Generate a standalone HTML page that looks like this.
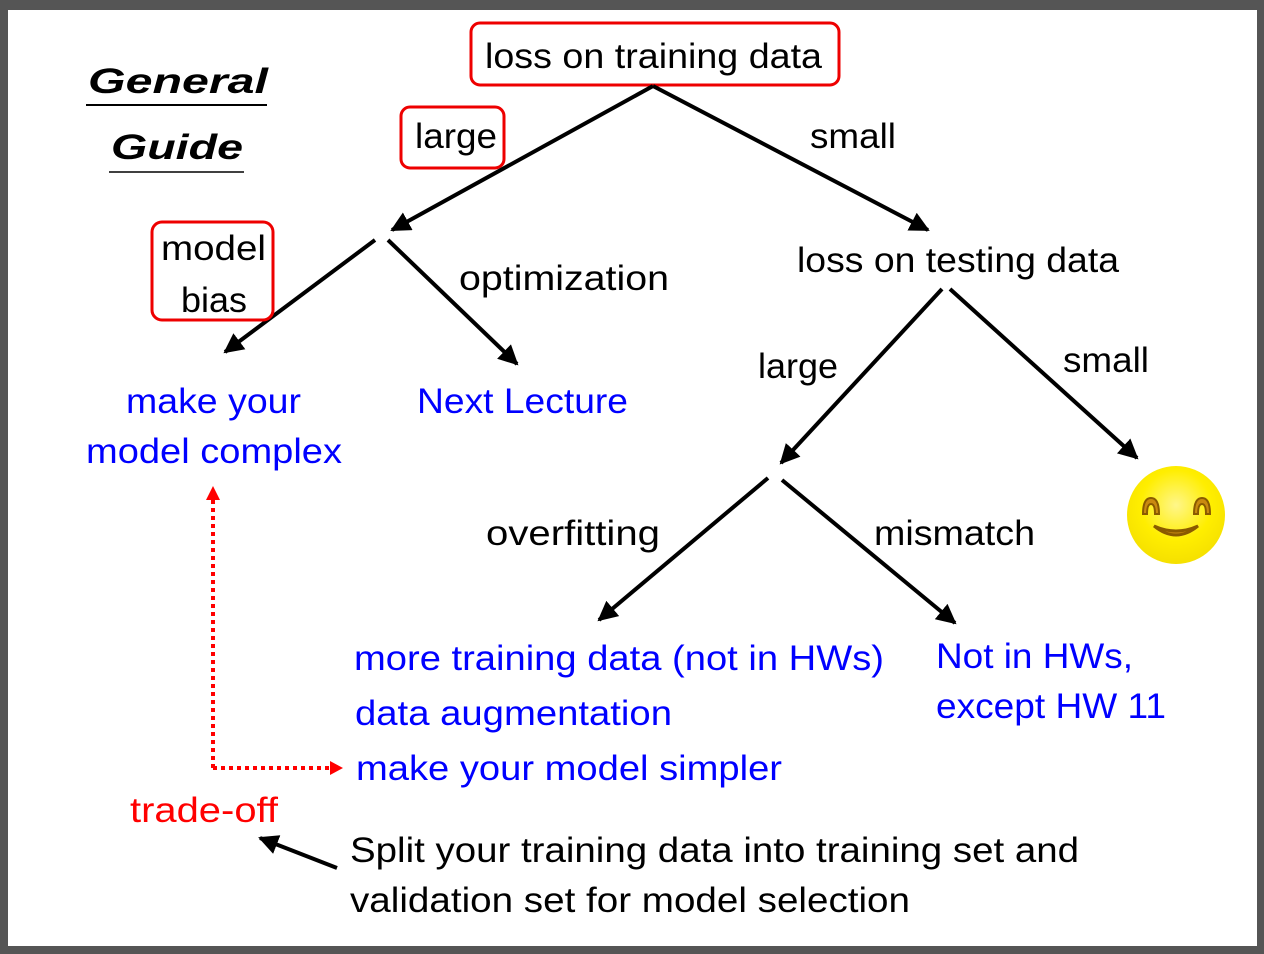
<!DOCTYPE html>
<html><head><meta charset="utf-8"><style>
html,body{margin:0;padding:0;background:#555;}
svg{display:block;}
text{font-family:"Liberation Sans",sans-serif;font-size:35px;}
</style></head><body>
<svg width="1264" height="954" viewBox="0 0 1264 954" xmlns="http://www.w3.org/2000/svg">
<defs>
<marker id="ah" markerWidth="5" markerHeight="5" refX="4.5" refY="2.5" orient="auto" markerUnits="strokeWidth"><path d="M0,0 L5,2.5 L0,5 z" fill="#000"/></marker>
<radialGradient id="sg" cx="50%" cy="40%" r="60%"><stop offset="0" stop-color="#fff68a"/><stop offset="0.6" stop-color="#ffee00"/><stop offset="1" stop-color="#f5e000"/></radialGradient>
</defs>
<rect x="8" y="10" width="1249" height="936" fill="#fff"/>
<text x="88" y="93" font-weight="bold" font-style="italic" font-size="48" textLength="180" lengthAdjust="spacingAndGlyphs">General</text>
<line x1="86" y1="105" x2="267" y2="105" stroke="#000" stroke-width="2"/>
<text x="111" y="159" font-weight="bold" font-style="italic" font-size="48" textLength="132" lengthAdjust="spacingAndGlyphs">Guide</text>
<line x1="109" y1="172" x2="244" y2="172" stroke="#000" stroke-width="1.5"/>
<rect x="471" y="23" width="368" height="62" rx="9" fill="none" stroke="#e00" stroke-width="3"/>
<text x="485" y="68" textLength="337" lengthAdjust="spacingAndGlyphs">loss on training data</text>
<rect x="401" y="107" width="103" height="61" rx="9" fill="none" stroke="#e00" stroke-width="3"/>
<text x="415" y="148" textLength="82" lengthAdjust="spacingAndGlyphs">large</text>
<text x="810" y="148" textLength="86" lengthAdjust="spacingAndGlyphs">small</text>
<g stroke="#000" stroke-width="4" marker-end="url(#ah)">
<line x1="653" y1="86" x2="392" y2="230"/>
<line x1="653" y1="86" x2="928" y2="230"/>
<line x1="375" y1="240" x2="225" y2="352"/>
<line x1="388" y1="240" x2="517" y2="364"/>
<line x1="942" y1="289" x2="781" y2="463"/>
<line x1="950" y1="289" x2="1137" y2="458"/>
<line x1="768" y1="478" x2="599" y2="620"/>
<line x1="782" y1="480" x2="955" y2="623"/>
<line x1="337" y1="868" x2="260" y2="838"/>
</g>
<rect x="152" y="222" width="121" height="98" rx="10" fill="none" stroke="#e00" stroke-width="3"/>
<text x="161" y="260" textLength="105" lengthAdjust="spacingAndGlyphs">model</text>
<text x="181" y="312" textLength="66" lengthAdjust="spacingAndGlyphs">bias</text>
<text x="459" y="290" textLength="210" lengthAdjust="spacingAndGlyphs">optimization</text>
<text x="797" y="272" textLength="322" lengthAdjust="spacingAndGlyphs">loss on testing data</text>
<g fill="#00f">
<text x="126" y="413" textLength="175" lengthAdjust="spacingAndGlyphs">make your</text>
<text x="86" y="463" textLength="256" lengthAdjust="spacingAndGlyphs">model complex</text>
<text x="417" y="413" textLength="211" lengthAdjust="spacingAndGlyphs">Next Lecture</text>
<text x="354" y="670" textLength="530" lengthAdjust="spacingAndGlyphs">more training data (not in HWs)</text>
<text x="355" y="725" textLength="317" lengthAdjust="spacingAndGlyphs">data augmentation</text>
<text x="356" y="780" textLength="426" lengthAdjust="spacingAndGlyphs">make your model simpler</text>
<text x="936" y="668" textLength="197" lengthAdjust="spacingAndGlyphs">Not in HWs,</text>
<text x="936" y="718" textLength="230" lengthAdjust="spacingAndGlyphs">except HW 11</text>
</g>
<text x="758" y="378" textLength="80" lengthAdjust="spacingAndGlyphs">large</text>
<text x="1063" y="372" textLength="86" lengthAdjust="spacingAndGlyphs">small</text>
<text x="486" y="545" textLength="174" lengthAdjust="spacingAndGlyphs">overfitting</text>
<text x="874" y="545" textLength="161" lengthAdjust="spacingAndGlyphs">mismatch</text>
<circle cx="1176" cy="515" r="49" fill="url(#sg)"/>
<g fill="#c98a10" stroke="#8a5a00" stroke-width="2">
<path d="M1143,514 q0,-16 8,-16 q8,0 8,16 l-4,0 q0,-10 -4,-10 q-4,0 -4,10z"/>
<path d="M1194,514 q0,-16 8,-16 q8,0 8,16 l-4,0 q0,-10 -4,-10 q-4,0 -4,10z"/>
</g>
<path d="M1154,526 q22,18 44,0 q-22,10 -44,0z" fill="#c98a10" stroke="#8a5a00" stroke-width="3"/>
<g stroke="#f00" stroke-width="4" stroke-dasharray="4,4" fill="none">
<polyline points="213,768 213,498"/>
<polyline points="213,768 332,768"/>
</g>
<path d="M206,500 L213,486 L220,500z" fill="#f00"/>
<path d="M330,761 L343,768 L330,775z" fill="#f00"/>
<text x="130" y="822" fill="#f00" textLength="148" lengthAdjust="spacingAndGlyphs">trade-off</text>
<text x="350" y="862" textLength="729" lengthAdjust="spacingAndGlyphs">Split your training data into training set and</text>
<text x="350" y="912" textLength="560" lengthAdjust="spacingAndGlyphs">validation set for model selection</text>
</svg>
</body></html>
